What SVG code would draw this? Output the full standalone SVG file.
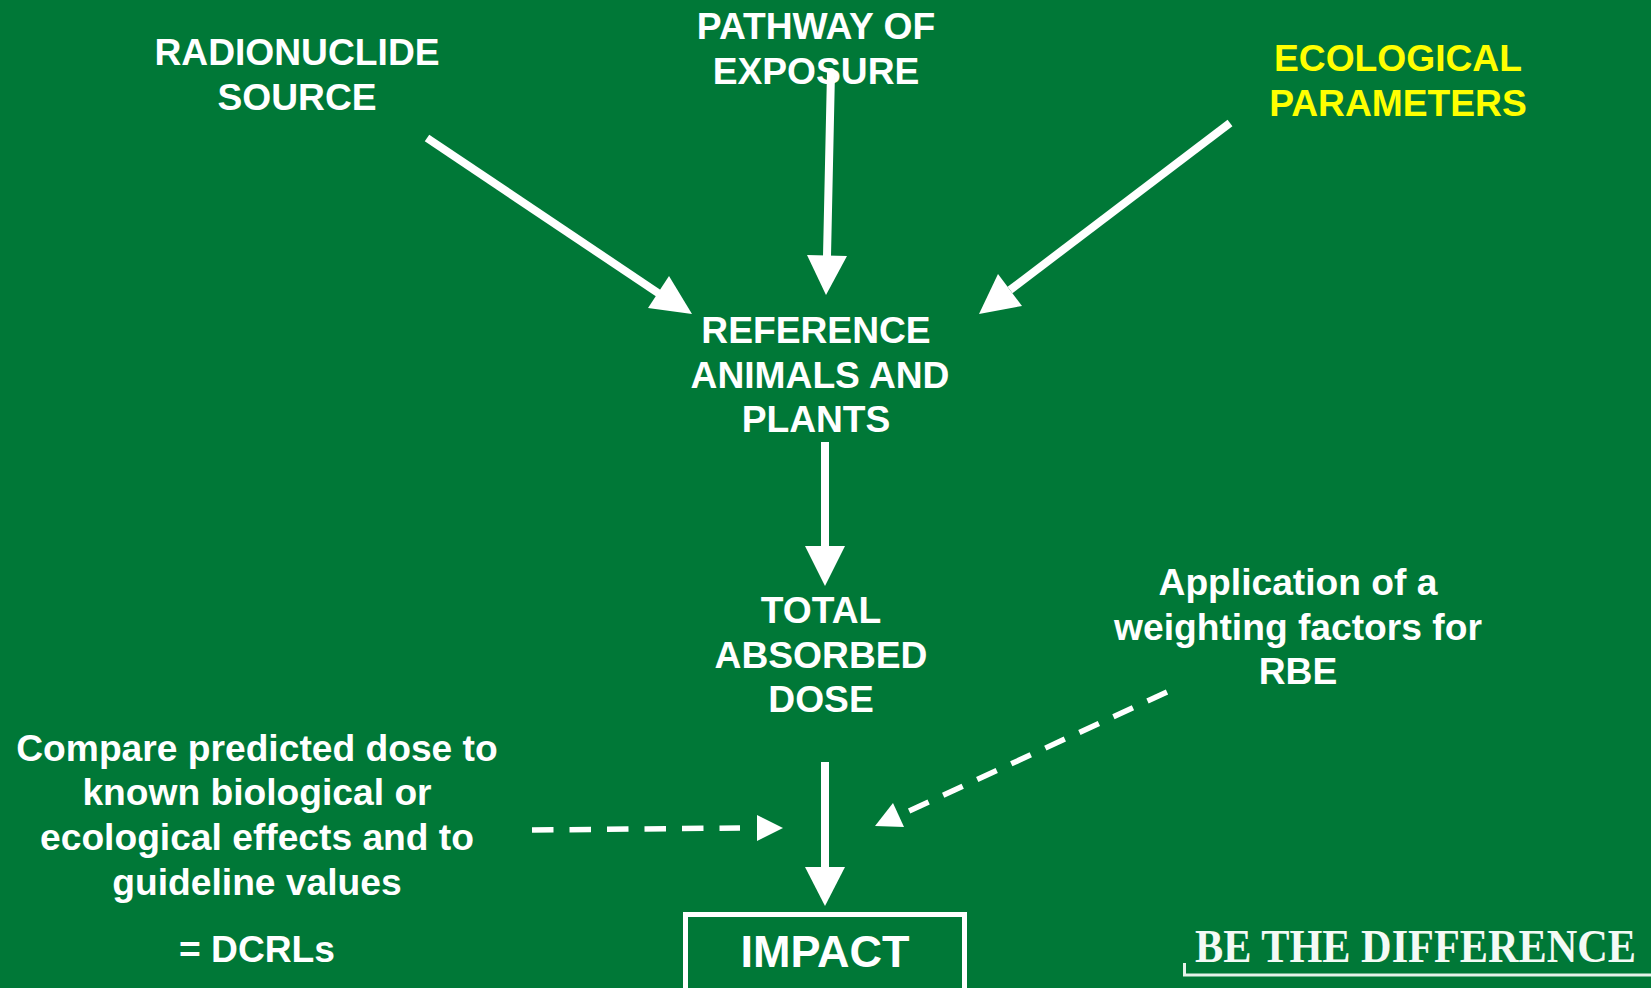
<svg xmlns="http://www.w3.org/2000/svg" width="1651" height="988" viewBox="0 0 1651 988">
<style>
text{font-family:"Liberation Sans",Arial,sans-serif;font-weight:700;font-size:37.2px;fill:#fff;text-anchor:middle}
.y{fill:#ff0}
.ln{stroke:#fff;stroke-width:8;fill:none}
.ds{stroke:#fff;stroke-width:5.500;fill:none;stroke-dasharray:21.5 16}
.hd{fill:#fff}
</style>
<rect width="1651" height="988" fill="#007837"/>
<g id="connectors">
<path class="ln" d="M427 138L664 297"/><polygon class="hd" points="692,314 669,276 648,308"/>
<path class="ln" stroke-linecap="round" d="M831 72L827 256"/><polygon class="hd" points="807,255 847,256 826,295"/>
<path class="ln" d="M1230 123L1010 290"/><polygon class="hd" points="979,314 998,274 1022,306"/>
<path class="ln" d="M825 442V547"/><polygon class="hd" points="805,546 845,546 825,586"/>
<path class="ln" d="M825 762V868"/><polygon class="hd" points="805,867 845,867 825,906"/>
<path class="ds" d="M532 830L740 828"/><polygon class="hd" points="757,815 783,828 757,841"/>
<path class="ds" d="M1167 692L909 811"/><polygon class="hd" points="875,826 893,803 904,827"/>
</g>
<g id="radionuclide"><text x="297" y="65">RADIONUCLIDE</text><text x="297" y="110">SOURCE</text></g>
<g id="pathway"><text x="816" y="39">PATHWAY OF</text><text x="816" y="84">EXPOSURE</text></g>
<g id="ecological"><text class="y" x="1398" y="70.500">ECOLOGICAL</text><text class="y" x="1398" y="115.500">PARAMETERS</text></g>
<g id="reference"><text x="816" y="343">REFERENCE</text><text x="820" y="388">ANIMALS AND</text><text x="816" y="432">PLANTS</text></g>
<g id="total"><text x="821" y="622.500">TOTAL</text><text x="821" y="667.500">ABSORBED</text><text x="821" y="712">DOSE</text></g>
<g id="application"><text x="1298" y="595">Application of a</text><text x="1298" y="640">weighting factors for</text><text x="1298" y="684">RBE</text></g>
<g id="compare"><text x="257" y="761">Compare predicted dose to</text><text x="257" y="805">known biological or</text><text x="257" y="850">ecological effects and to</text><text x="257" y="894.500">guideline values</text><text x="257" y="961.500">= DCRLs</text></g>
<g id="impact"><rect x="685.5" y="914.5" width="279" height="90" fill="none" stroke="#fff" stroke-width="5"/><text x="825" y="967" style="font-size:45px">IMPACT</text></g>
<g id="logo"><path d="M1184.500 963V975H1651" fill="none" stroke="#e6f2ea" stroke-width="3"/><text transform="translate(1195 961.500) scale(.9 1)" x="0" y="0" style="font-family:'Liberation Serif',serif;font-size:47px;font-weight:700;fill:#f4faf5;text-anchor:start">BE THE DIFFERENCE</text></g>
</svg>
